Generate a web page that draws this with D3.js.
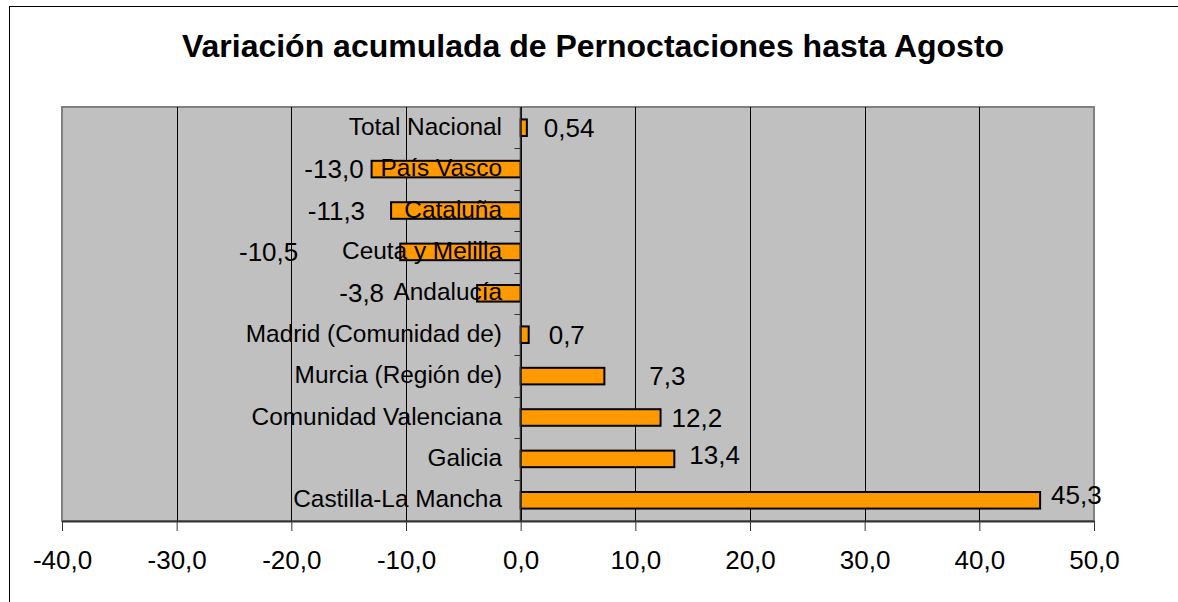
<!DOCTYPE html>
<html>
<head>
<meta charset="utf-8">
<script src="https://cdn.jsdelivr.net/npm/d3@7"></script>
<style>
	body { margin: 0; background: #fff; }
	svg { display: block; font-family: Arial, "Liberation Sans", sans-serif; }
</style>
</head>
<body>
<div id="chart"></div>
<script>
// chart data, top to bottom
var categories = [
	"Total Nacional",
	"País Vasco",
	"Cataluña",
	"Ceuta y Melilla",
	"Andalucía",
	"Madrid (Comunidad de)",
	"Murcia (Región de)",
	"Comunidad Valenciana",
	"Galicia",
	"Castilla-La Mancha"
];
var values = [0.54, -13.0, -11.3, -10.5, -3.8, 0.7, 7.3, 12.2, 13.4, 45.3];
var xTicks = [-40, -30, -20, -10, 0, 10, 20, 30, 40, 50];
var title = "Variación acumulada de Pernoctaciones hasta Agosto";

// hand-moved data labels in the original (pixels)
var labelNudge = {
	"Total Nacional": [6, 0],
	"Cataluña": [-18, 0],
	"Ceuta y Melilla": [-94, 0],
	"Andalucía": [-85, 0],
	"Madrid (Comunidad de)": [9, 0],
	"Murcia (Región de)": [34, 0],
	"Galicia": [4, -4],
	"Castilla-La Mancha": [0, -5]
};

var width = 1178, height = 602;
var plot = { left: 62, right: 1094, top: 107, bottom: 521 };

var svg = d3.select("#chart").append("svg")
	.attr("width", width)
	.attr("height", height);

// outer chart frame
svg.append("rect")
	.attr("x", 9.5)
	.attr("y", 6.5)
	.attr("width", 1300)
	.attr("height", 700)
	.attr("fill", "#fff")
	.attr("stroke", "#000")
	.attr("stroke-width", 1);

svg.append("text")
	.attr("x", 593)
	.attr("y", 57)
	.attr("text-anchor", "middle")
	.attr("font-size", 32)
	.attr("font-weight", "bold")
	.text(title);

var x = d3.scaleLinear()
	.domain([xTicks[0], xTicks[xTicks.length - 1]])
	.range([plot.left, plot.right]);

var y = d3.scaleBand()
	.domain(categories)
	.range([plot.top, plot.bottom])
	.paddingInner(0.6)
	.paddingOuter(0.3);

// plot area
svg.append("rect")
	.attr("x", plot.left)
	.attr("y", plot.top)
	.attr("width", plot.right - plot.left)
	.attr("height", plot.bottom - plot.top)
	.attr("fill", "#c0c0c0")
	.attr("stroke", "#808080")
	.attr("stroke-width", 2);

// vertical gridlines
svg.append("g")
	.selectAll("line")
	.data(xTicks.slice(1, -1))
	.join("line")
		.attr("x1", d => Math.round(x(d)) + 0.5)
		.attr("x2", d => Math.round(x(d)) + 0.5)
		.attr("y1", plot.top)
		.attr("y2", plot.bottom)
		.attr("stroke", "#000")
		.attr("stroke-width", 1);

// x axis
var xAxis = svg.append("g")
	.attr("transform", "translate(0," + plot.bottom + ")")
	.call(d3.axisBottom(x)
		.tickValues(xTicks)
		.tickSize(10)
		.tickSizeOuter(0)
		.tickPadding(20)
		.tickFormat(d => d.toFixed(1).replace(".", ",")));

xAxis.select(".domain").attr("stroke", "#333").attr("stroke-width", 2);
xAxis.selectAll(".tick line").attr("stroke", "#333").attr("stroke-width", 1);
xAxis.selectAll(".tick text")
	.attr("fill", "#000")
	.attr("font-size", 26)
	.attr("font-family", "Arial, 'Liberation Sans', sans-serif");

// bars
var fmt = v => (Math.round(v * 10) === v * 10 ? v.toFixed(1) : String(v)).replace(".", ",");

svg.append("g")
	.selectAll("rect")
	.data(categories)
	.join("rect")
		.attr("x", (d, i) => x(Math.min(0, values[i])))
		.attr("y", d => y(d))
		.attr("width", (d, i) => Math.abs(x(values[i]) - x(0)))
		.attr("height", y.bandwidth())
		.attr("fill", "#ff9900")
		.attr("stroke", "#000")
		.attr("stroke-width", 2);

// category axis at zero
var x0 = Math.round(x(0)) - 0.5;
var cat = svg.append("g");
cat.append("line")
	.attr("x1", x0).attr("x2", x0)
	.attr("y1", plot.top).attr("y2", plot.bottom)
	.attr("stroke", "#333")
	.attr("stroke-width", 1.5);

var step = y.step();
cat.selectAll("line.tick")
	.data(d3.range(1, categories.length))
	.join("line")
		.attr("class", "tick")
		.attr("x1", x0 - 6).attr("x2", x0)
		.attr("y1", k => Math.round(plot.top + k * step) + 0.5)
		.attr("y2", k => Math.round(plot.top + k * step) + 0.5)
		.attr("stroke", "#333");

cat.selectAll("text")
	.data(categories)
	.join("text")
		.attr("x", 502)
		.attr("y", d => y(d) + y.bandwidth() / 2 + 7)
		.attr("text-anchor", "end")
		.attr("font-size", 24.4)
		.text(d => d);

// data labels
svg.append("g")
	.selectAll("text")
	.data(categories)
	.join("text")
		.attr("x", (d, i) => {
			var n = labelNudge[d] || [0, 0];
			return (values[i] >= 0 ? x(values[i]) + 11 : x(values[i]) - 8) + n[0];
		})
		.attr("y", d => y(d) + y.bandwidth() / 2 + 9 + (labelNudge[d] || [0, 0])[1])
		.attr("text-anchor", (d, i) => values[i] >= 0 ? "start" : "end")
		.attr("font-size", 26)
		.text((d, i) => fmt(values[i]));
</script>
</body>
</html>
